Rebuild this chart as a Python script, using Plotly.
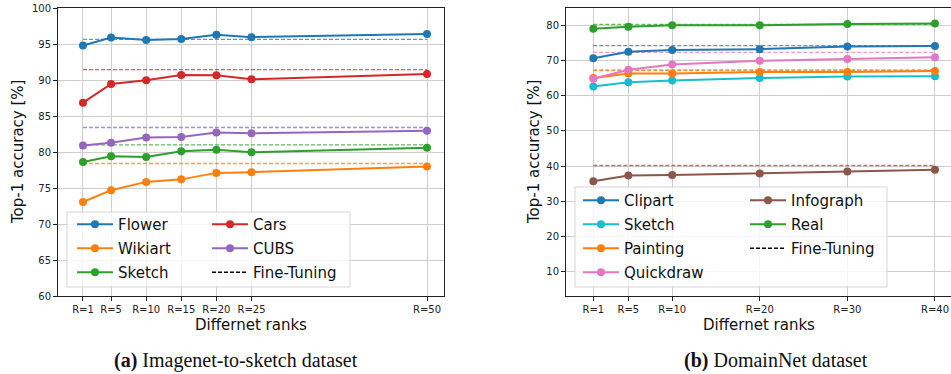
import plotly.graph_objects as go

W, H = 951, 374

# ---------------- data ----------------
ranks_a = [1, 5, 10, 15, 20, 25, 50]
ticks_a = ["R=1", "R=5", "R=10", "R=15", "R=20", "R=25", "R=50"]
flower = [94.8, 95.9, 95.55, 95.7, 96.3, 95.95, 96.4]
wikiart = [73.05, 74.7, 75.85, 76.2, 77.1, 77.2, 78.0]
sketch_a = [78.6, 79.4, 79.3, 80.1, 80.3, 79.95, 80.6]
cars = [86.85, 89.45, 89.95, 90.7, 90.65, 90.1, 90.85]
cubs = [80.9, 81.3, 82.0, 82.1, 82.7, 82.6, 82.95]
ft_a = {"Flower": 95.65, "Wikiart": 78.4, "Sketch": 81.0, "Cars": 91.45, "CUBS": 83.4}

ranks_b = [1, 5, 10, 20, 30, 40]
ticks_b = ["R=1", "R=5", "R=10", "R=20", "R=30", "R=40"]
clipart = [70.7, 72.6, 73.05, 73.3, 74.1, 74.2]
sketch_b = [62.7, 63.9, 64.4, 65.1, 65.5, 65.6]
painting = [65.1, 66.4, 66.4, 66.8, 66.8, 67.1]
quickdraw = [64.9, 67.45, 68.95, 70.0, 70.5, 71.0]
infograph = [35.65, 37.3, 37.45, 37.9, 38.45, 38.95]
real = [79.1, 79.7, 80.1, 80.1, 80.5, 80.6]
ft_b = {"Clipart": 74.3, "Sketch": 67.4, "Painting": 67.2, "Quickdraw": 72.4,
        "Infograph": 40.15, "Real": 80.4}

C = {"blue": "#1f77b4", "orange": "#ff7f0e", "green": "#2ca02c", "red": "#d62728",
     "purple": "#9467bd", "brown": "#8c564b", "pink": "#e377c2", "cyan": "#17becf"}

series_a = [("Flower", flower, C["blue"], "legend"),
            ("Wikiart", wikiart, C["orange"], "legend"),
            ("Sketch", sketch_a, C["green"], "legend"),
            ("Cars", cars, C["red"], "legend2"),
            ("CUBS", cubs, C["purple"], "legend2")]
series_b = [("Clipart", clipart, C["blue"], "legend3"),
            ("Sketch", sketch_b, C["cyan"], "legend3"),
            ("Painting", painting, C["orange"], "legend3"),
            ("Quickdraw", quickdraw, C["pink"], "legend3"),
            ("Infograph", infograph, C["brown"], "legend4"),
            ("Real", real, C["green"], "legend4")]

fig = go.Figure()


def add_panel(series, ranks, ft, xa, ya, ft_legend):
    for name, vals, col, _ in series:
        fig.add_trace(go.Scatter(x=[ranks[0], ranks[-1]], y=[ft[name], ft[name]],
                                 mode="lines", xaxis=xa, yaxis=ya, showlegend=False,
                                 opacity=0.75, hoverinfo="skip",
                                 line=dict(color=col, width=1.3, dash="4px,2px")))
    for i, (name, vals, col, lg) in enumerate(series):
        fig.add_trace(go.Scatter(x=ranks, y=vals, mode="lines+markers", name=name,
                                 xaxis=xa, yaxis=ya, legend=lg,
                                 legendgroup=f"{xa}{i}",
                                 line=dict(color=col, width=2),
                                 marker=dict(color=col, size=8)))
    fig.add_trace(go.Scatter(x=[None], y=[None], mode="lines", name="Fine-Tuning",
                             xaxis=xa, yaxis=ya, legend=ft_legend,
                             legendgroup=f"{xa}ft",
                             line=dict(color="black", width=1.5, dash="4px,2px")))


add_panel(series_a, ranks_a, ft_a, "x", "y", "legend2")
add_panel(series_b, ranks_b, ft_b, "x2", "y2", "legend4")


def px(v):
    return v / W


def py(v):
    return 1 - v / H


ydom = [py(296), py(8)]
tickfont = dict(family="DejaVu Sans", size=10, color="#222")
common_x = dict(showgrid=True, gridcolor="#cfcfcf", gridwidth=1, zeroline=False,
                showline=True, linecolor="#222", linewidth=1, ticks="outside",
                ticklen=4, tickcolor="#222", tickfont=tickfont, automargin=False)
common_y = dict(common_x)

fig.update_layout(
    width=W, height=H, margin=dict(l=0, r=0, t=0, b=0, autoexpand=False),
    paper_bgcolor="white", plot_bgcolor="white", showlegend=True,
    xaxis=dict(domain=[px(58), px(444)], range=[-2.56, 52.42], tickvals=ranks_a,
               ticktext=ticks_a, mirror=True, anchor="y", **common_x),
    yaxis=dict(domain=ydom, range=[60, 100], tickvals=[60, 65, 70, 75, 80, 85, 90, 95, 100],
               mirror=True, anchor="x", **common_y),
    xaxis2=dict(domain=[px(566), 1.0], range=[-2.12, 41.83], tickvals=ranks_b,
                ticktext=ticks_b, mirror=True, anchor="y2", **common_x),
    yaxis2=dict(domain=ydom, range=[2.96, 85.04], tickvals=[10, 20, 30, 40, 50, 60, 70, 80],
                mirror=False, anchor="x2", **common_y),
)

legfont = dict(family="DejaVu Sans", size=15, color="#111")
legcommon = dict(bgcolor="rgba(0,0,0,0)", borderwidth=0, font=legfont,
                 xanchor="left", yanchor="top", tracegroupgap=1.5, itemwidth=36)
fig.update_layout(
    legend=dict(x=px(72), y=py(208), **legcommon),
    legend2=dict(x=px(207), y=py(208), **legcommon),
    legend3=dict(x=px(578), y=py(184), **legcommon),
    legend4=dict(x=px(745), y=py(184), **legcommon),
)

# legend frames
for x0, x1, y0, y1 in [(67, 350, 212, 287), (575, 887, 187, 287)]:
    fig.add_shape(type="rect", xref="paper", yref="paper", x0=px(x0), x1=px(x1),
                  y0=py(y1), y1=py(y0), line=dict(color="#d5d5d5", width=1),
                  fillcolor="rgba(255,255,255,0.8)", layer="above")

labfont = dict(family="DejaVu Sans", size=15, color="#111")
capfont = dict(family="Liberation Serif", size=20, color="#111")
ann = [
    dict(text="Differnet ranks", x=px(251), y=py(325), font=labfont),
    dict(text="Differnet ranks", x=px(759), y=py(325), font=labfont),
    dict(text="Top-1 accuracy [%]", x=px(18), y=py(152), textangle=-90, font=labfont),
    dict(text="Top-1 accuracy [%]", x=px(534), y=py(152), textangle=-90, font=labfont),
    dict(text="<b>(a)</b> Imagenet-to-sketch dataset", x=px(236), y=py(360), font=capfont),
    dict(text="<b>(b)</b> DomainNet dataset", x=px(776), y=py(360), font=capfont),
]
for a in ann:
    fig.add_annotation(xref="paper", yref="paper", showarrow=False,
                       xanchor="center", yanchor="middle", **a)

fig.write_html("out.html", config={"displayModeBar": False},
               post_script="document.body.style.margin='0';document.body.style.overflow='hidden';")
